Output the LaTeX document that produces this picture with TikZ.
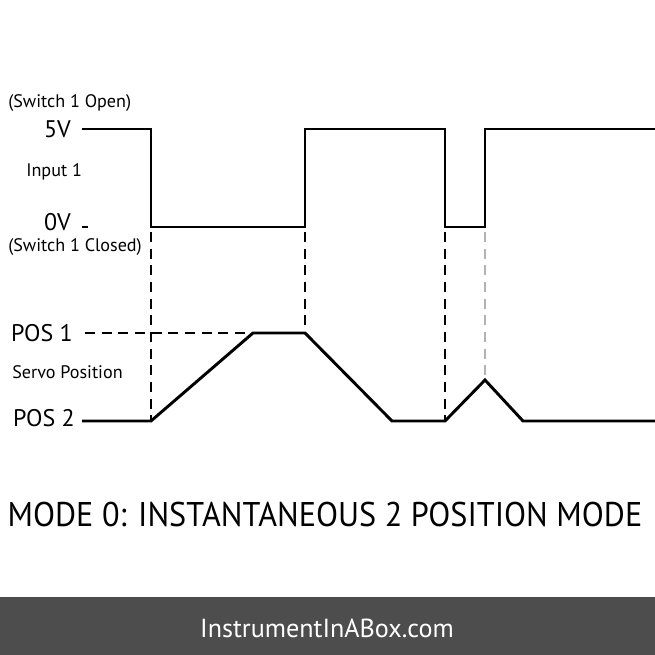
\documentclass[tikz,border=0pt]{standalone}
\usepackage{fontspec}
\setmainfont{PT Sans}
\newfontfamily\titlefont[FakeStretch=0.94]{PT Sans}
\usetikzlibrary{positioning}

\definecolor{footergray}{HTML}{4D4D4D}
\tikzset{
  signal/.style={line width=2.2pt, line join=miter},
  guide/.style={line width=0.9pt, dash pattern=on 7.5pt off 5pt},
  lvl/.style={font=\fontsize{18}{20}\selectfont, anchor=east, inner sep=0pt},
  note/.style={font=\fontsize{13.6}{15}\selectfont, anchor=west, inner sep=0pt}
}

\begin{document}
\begin{tikzpicture}[x=0.75pt, y=-0.75pt]
    \useasboundingbox (0,0) rectangle (655,655);
    \fill[white] (0,0) rectangle (655,655);

    % Input 1 labels
    \node[note] (open) at (8,103) {(Switch 1 Open)};
    \node[lvl] (high) at (71,129) {5V};
    \node[note] (input) at (26,172) {Input 1};
    \node[lvl] (low) at (71,222) {0V};
    \node[note] (closed) at (8,247) {(Switch 1 Closed)};

    % Input 1 signal
    \draw[signal] (82,129) -- (151,129) -- (151,227) -- (305,227) -- (305,129)
        -- (445,129) -- (445,227) -- (485,227) -- (485,129) -- (655,129);
    \draw[line width=0.9pt] (high.east) ++(11,98) -- ++(6,0);

    % Servo labels
    \node[lvl] (pos1) at (73,333) {POS 1};
    \node[note] (servo) at (12,372) {Servo Position};
    \node[lvl] (pos2) at (75,418) {POS 2};

    % Guide lines
    \draw[guide] (85,333) -- (253,333);
    \draw[guide] (151,232) -- (151,421);
    \draw[guide] (305,232) -- (305,333);
    \draw[guide] (445,232) -- (445,421);
    \draw[guide, black!30] (485,232) -- (485,380);

    % Servo position
    \draw[signal] (82,421) -- (151,421) -- (253,333) -- (305,333) -- (392,421)
        -- (445,421) -- (485,380) -- (523,421) -- (655,421);

    % Title and footer
    \node[font=\titlefont\fontsize{25.7}{28}\selectfont, inner sep=0pt] (title) at (325,515)
        {MODE 0: INSTANTANEOUS 2 POSITION MODE};
    \fill[footergray] (0,597) rectangle (655,655);
    \node[font=\fontsize{19.6}{22}\selectfont, text=white, inner sep=0pt] (site) at (327,628)
        {InstrumentInABox.com};
\end{tikzpicture}
\end{document}
